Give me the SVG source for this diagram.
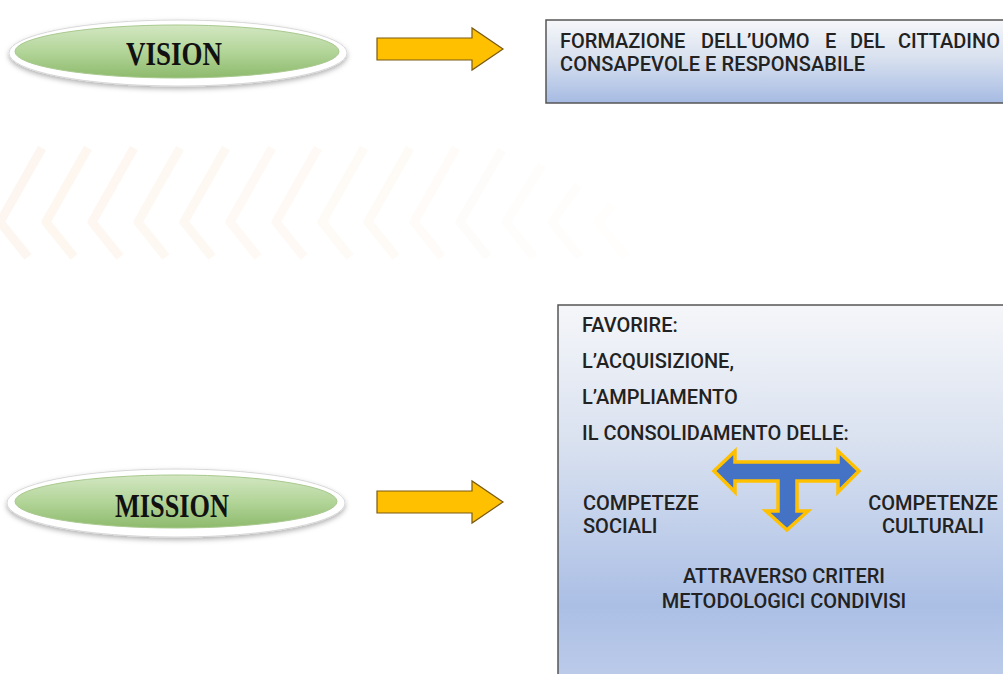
<svg xmlns="http://www.w3.org/2000/svg" width="1003" height="674" viewBox="0 0 1003 674">
<defs>
<linearGradient id="green" x1="0" y1="0" x2="0" y2="1">
<stop offset="0" stop-color="#d3e7c2"/>
<stop offset="0.5" stop-color="#b3d599"/>
<stop offset="1" stop-color="#8dba6c"/>
</linearGradient>
<linearGradient id="blueV" x1="0" y1="0" x2="0" y2="1">
<stop offset="0" stop-color="#f6f7f9"/>
<stop offset="0.45" stop-color="#d9e1ef"/>
<stop offset="1" stop-color="#a6bbe3"/>
</linearGradient>
<linearGradient id="blueM" x1="0" y1="0" x2="0" y2="1">
<stop offset="0" stop-color="#f5f6f9"/>
<stop offset="0.35" stop-color="#dae2f0"/>
<stop offset="0.78" stop-color="#abbfe5"/>
<stop offset="1" stop-color="#bfcdea"/>
</linearGradient>
<filter id="sh" x="-10%" y="-40%" width="120%" height="180%">
<feDropShadow dx="0" dy="2.5" stdDeviation="2.5" flood-color="#000" flood-opacity="0.3"/>
</filter>
</defs>
<style>
.rim{fill:#ffffff;stroke:#d8d8d8;stroke-width:1}
.pill{fill:url(#green);stroke:#a9c98f;stroke-width:1}
.ptxt{font-family:"Liberation Serif",serif;font-weight:bold;font-size:34px;fill:#111;text-anchor:middle}
.arrow{fill:#ffc000;stroke:#7a5a10;stroke-width:1.2}
.box{stroke:#555;stroke-width:1.5}
.t{font-family:Roboto,"Liberation Sans",sans-serif;font-weight:500;font-size:20px;fill:#222}
.chev{fill:none;stroke:#fcefe3;stroke-width:9;stroke-linejoin:round}
</style>
<rect width="1003" height="674" fill="#ffffff"/>
<g id="background">
<polyline class="chev" points="42,148 0,222 28,257" opacity="0.55"/>
<polyline class="chev" points="88,148 46,222 74,257" opacity="0.52"/>
<polyline class="chev" points="134,148 92,222 120,257" opacity="0.49"/>
<polyline class="chev" points="180,148 138,222 166,257" opacity="0.46"/>
<polyline class="chev" points="226,148 184,222 212,257" opacity="0.43"/>
<polyline class="chev" points="272,148 230,222 258,257" opacity="0.4"/>
<polyline class="chev" points="318,148 276,222 304,257" opacity="0.36"/>
<polyline class="chev" points="364,148 322,222 350,257" opacity="0.32"/>
<polyline class="chev" points="410,148 368,222 396,257" opacity="0.28"/>
<polyline class="chev" points="456,148 414,222 442,257" opacity="0.24"/>
<polyline class="chev" points="502,150 460,222 488,257" opacity="0.19"/>
<polyline class="chev" points="542,165 506,222 534,257" opacity="0.15"/>
<polyline class="chev" points="578,185 552,222 580,257" opacity="0.1"/>
<polyline class="chev" points="612,205 598,222 626,257" opacity="0.07"/>
</g>
<g id="vision">
<ellipse class="rim" cx="178" cy="53" rx="169" ry="33" filter="url(#sh)"/>
<ellipse class="pill" cx="177" cy="51.5" rx="162" ry="26.5"/>
<text class="ptxt" x="174" y="65" textLength="96" lengthAdjust="spacingAndGlyphs">VISION</text>
</g>
<g id="mission">
<ellipse class="rim" cx="176" cy="503" rx="169" ry="34" filter="url(#sh)"/>
<ellipse class="pill" cx="176" cy="501.5" rx="161" ry="26.5"/>
<text class="ptxt" x="172" y="517" textLength="114" lengthAdjust="spacingAndGlyphs">MISSION</text>
</g>
<g id="connectors">
<polygon class="arrow" points="377,38 472,38 472,28 503,49 472,70 472,60 377,60"/>
<polygon class="arrow" points="377,491 472,491 472,481 503,502 472,523 472,513 377,513"/>
</g>
<g id="vision-box">
<rect class="box" x="546" y="20" width="470" height="83" fill="url(#blueV)"/>
<text class="t" y="48"><tspan x="560">FORMAZIONE</tspan><tspan x="701">DELL’UOMO</tspan><tspan x="825">E</tspan><tspan x="850">DEL</tspan><tspan x="898">CITTADINO</tspan></text>
<text class="t" x="560" y="71" textLength="305" lengthAdjust="spacing">CONSAPEVOLE E RESPONSABILE</text>
</g>
<g id="mission-box">
<rect class="box" x="558" y="305" width="460" height="385" fill="url(#blueM)"/>
<text class="t" x="582" y="332">FAVORIRE:</text>
<text class="t" x="582" y="368">L’ACQUISIZIONE,</text>
<text class="t" x="582" y="404">L’AMPLIAMENTO</text>
<text class="t" x="582" y="440">IL CONSOLIDAMENTO DELLE:</text>
<text class="t" x="583" y="510">COMPETEZE</text>
<text class="t" x="583" y="533">SOCIALI</text>
<text class="t" x="933" y="510" text-anchor="middle">COMPETENZE</text>
<text class="t" x="933" y="533" text-anchor="middle">CULTURALI</text>
<text class="t" x="784" y="583" text-anchor="middle">ATTRAVERSO CRITERI</text>
<text class="t" x="784" y="608" text-anchor="middle">METODOLOGICI CONDIVISI</text>
</g>
<g id="t-arrow">
<polygon points="714,471 735,451 735,462 838,462 838,451 859,471 838,492 838,481 797,481 797,511 808,511 787,530 766,511 778,511 778,481 735,481 735,492" fill="#4472c4" stroke="#ffc000" stroke-width="3.5" stroke-linejoin="miter"/>
</g>
</svg>
